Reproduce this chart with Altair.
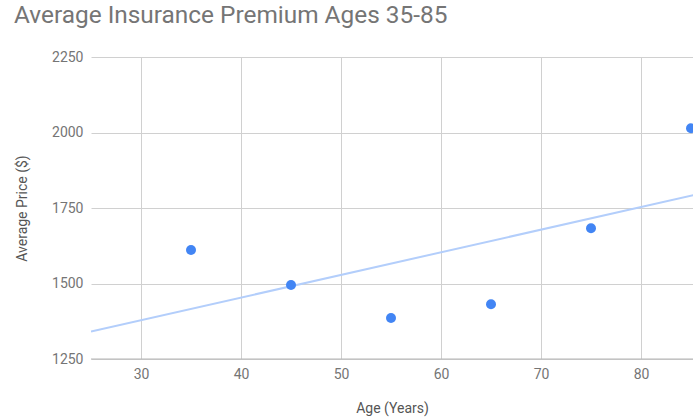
import altair as alt
import pandas as pd

# Average premium by age
ages = [35, 45, 55, 65, 75, 85]
prices = [1611, 1495, 1386, 1431, 1683, 2014]

x_ticks = [30, 40, 50, 60, 70, 80]
y_ticks = [1250, 1500, 1750, 2000, 2250]

df = pd.DataFrame({"age": ages, "price": prices})

FONT = "Roboto"
GRAY = "#757575"

x_enc = alt.X(
    "age:Q",
    title="Age (Years)",
    scale=alt.Scale(domain=[25, 85.2], nice=False, zero=False),
    axis=alt.Axis(values=x_ticks, grid=True, ticks=False, domain=False,
                  labelPadding=8, titlePadding=20),
)
y_enc = alt.Y(
    "price:Q",
    title="Average Price ($)",
    scale=alt.Scale(domain=[1250, 2250], nice=False, zero=False),
    axis=alt.Axis(values=y_ticks, format="d", grid=True, ticks=False, domain=False,
                  labelPadding=8, titlePadding=22),
)

base = alt.Chart(df)

trend = base.transform_regression(
    "age", "price", extent=[25, 86]
).mark_line(color="#b3cefb", strokeWidth=2, clip=True).encode(x=x_enc, y=y_enc)

baseline = alt.Chart(pd.DataFrame({"y": [1250]})).mark_rule(
    color="#b5b5b5", strokeWidth=1.2
).encode(y=alt.Y("y:Q", scale=alt.Scale(domain=[1250, 2250])))

points = base.mark_circle(size=100, color="#4285f4", opacity=1).encode(x=x_enc, y=y_enc)

chart = (
    alt.layer(trend, baseline, points)
    .properties(
        width=602,
        height=302,
        title=alt.TitleParams(
            "Average Insurance Premium Ages 35-85",
            anchor="start",
            frame="group",
            dx=-77,
            offset=22,
            fontSize=24.4,
            font=FONT,
            fontWeight="normal",
            color=GRAY,
        ),
        autosize=alt.AutoSizeParams(type="none"),
        padding={"left": 91, "top": 57, "right": 0, "bottom": 60},
    )
    .configure_view(stroke=None)
    .configure_axis(
        gridColor="#d0d0d0",
        labelFont=FONT,
        labelFontSize=14,
        labelColor=GRAY,
        titleFont=FONT,
        titleFontSize=14,
        titleFontWeight="normal",
        titleColor="#555555",
    )
)

chart.save("out.html", embed_options={"renderer": "svg", "actions": False})
